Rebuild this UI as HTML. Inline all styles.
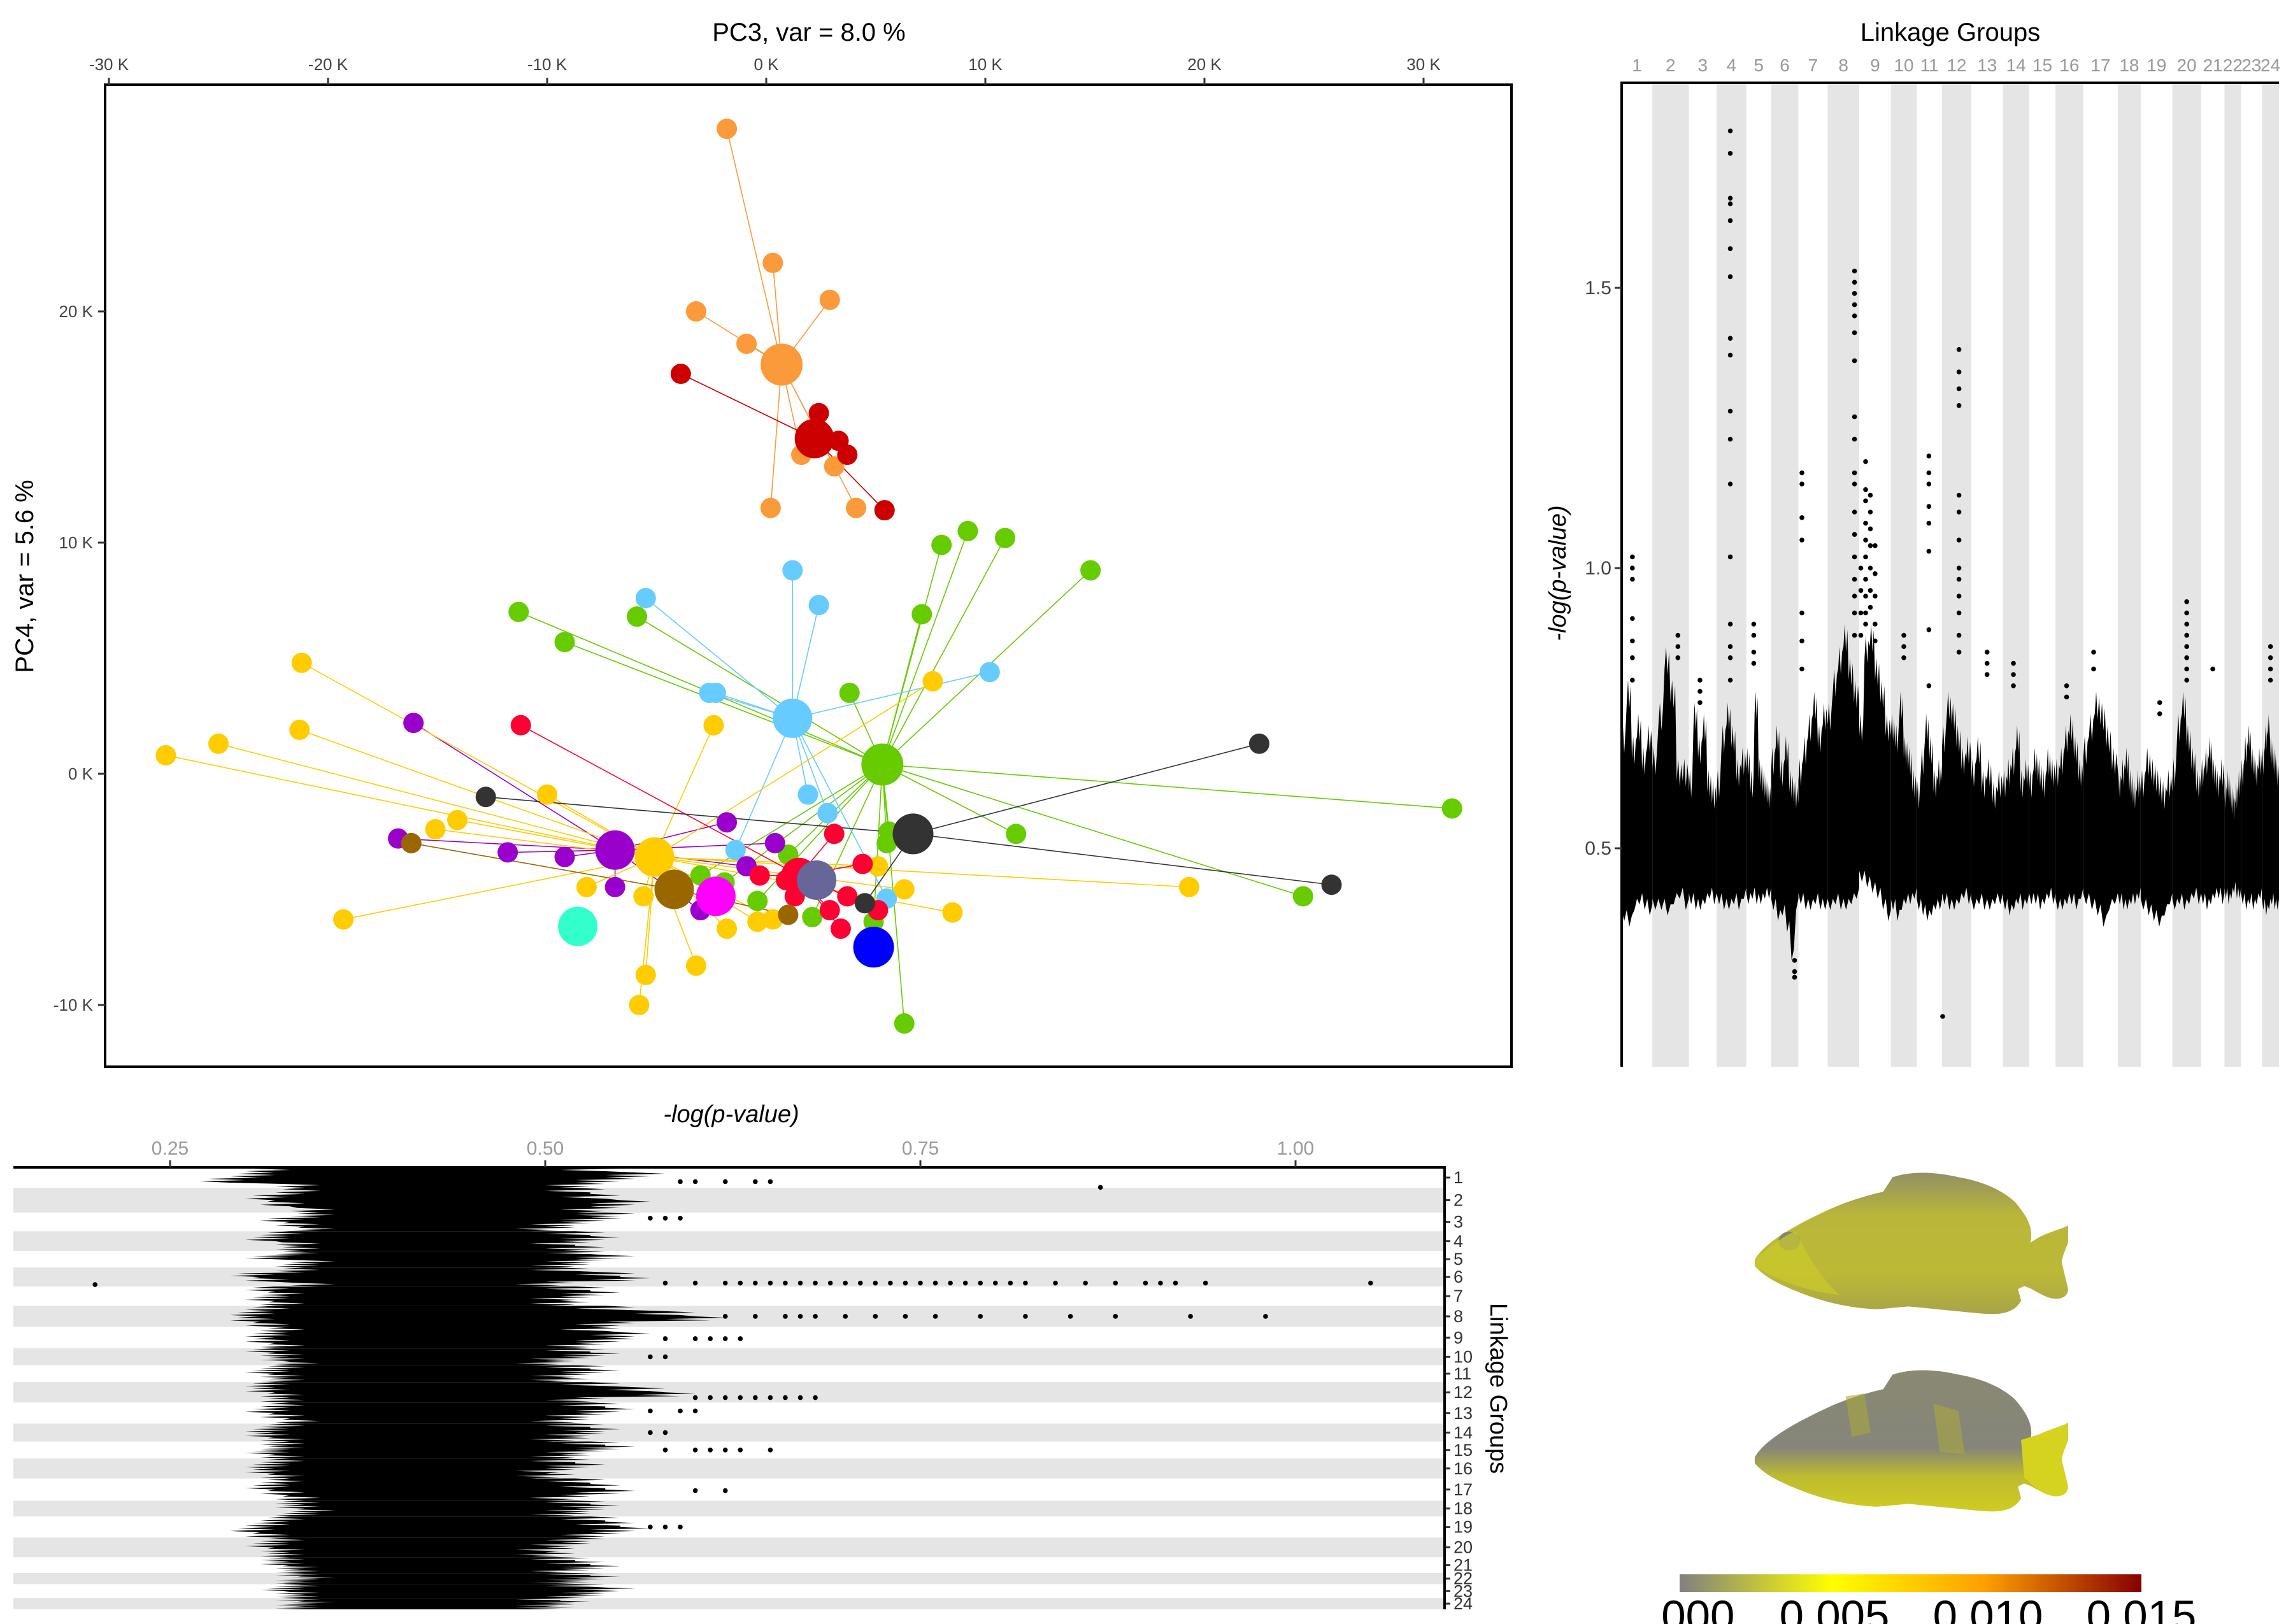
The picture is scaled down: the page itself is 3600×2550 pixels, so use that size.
<!DOCTYPE html>
<html><head><meta charset="utf-8">
<style>
html,body{margin:0;padding:0;background:#fff;}
svg{display:block;font-family:"Liberation Sans",sans-serif;}
</style></head>
<body>
<svg id="fig" width="3600" height="2550" viewBox="0 0 3600 2550" xmlns="http://www.w3.org/2000/svg">
<defs>
  <linearGradient id="cbar" x1="0" x2="1" y1="0" y2="0">
    <stop offset="0" stop-color="#808080"/>
    <stop offset="0.33" stop-color="#ffff00"/>
    <stop offset="0.66" stop-color="#ff9f00"/>
    <stop offset="1" stop-color="#870000"/>
  </linearGradient>
  <linearGradient id="fish1g" x1="0" x2="0" y1="0" y2="1">
    <stop offset="0" stop-color="#939064"/>
    <stop offset="0.3" stop-color="#b9b63a"/>
    <stop offset="0.7" stop-color="#bdb936"/>
    <stop offset="1" stop-color="#a8a548"/>
  </linearGradient>
  <linearGradient id="fish2g" x1="0" x2="0" y1="0" y2="1">
    <stop offset="0" stop-color="#8a8972"/>
    <stop offset="0.55" stop-color="#85857a"/>
    <stop offset="0.75" stop-color="#bdbb30"/>
    <stop offset="1" stop-color="#cfcc22"/>
  </linearGradient>
  <clipPath id="cblab"><rect x="2605" y="2400" width="1000" height="150"/></clipPath>
  <clipPath id="mclip"><rect x="2547" y="130" width="1031" height="1545"/></clipPath>
  <clipPath id="bclip"><rect x="21" y="1833" width="2246" height="717"/></clipPath>
</defs>
<g id="pca"></g>
<g id="man"></g>
<g id="bot"></g>
<g id="fishes">
  <g transform="translate(2750,1837) scale(4.92,2.28)">
    <path d="M1,62 C4,50 14,38 24,28 C30,22 36,18 42,15 L45,5 C52,0 60,2 66,5 C74,8 80,14 84,22 C88,32 90,40 89,50 L92,46 C96,42 100,40 101,38 L101,50 C100,56 99,60 99,64 L101,82 C101,88 98,90 95,88 C92,86 90,82 87,80 L85,82 L86,90 C84,98 80,100 74,99 C68,98 60,96 50,94 L40,96 C30,95 22,90 16,85 C10,80 4,74 1,66 Z" fill="url(#fish1g)"/>
    <ellipse cx="12" cy="49" rx="3.4" ry="6.5" fill="#85856e"/>
    <path d="M1,62 C6,52 10,46 14,42 C18,60 22,74 28,86 C18,84 8,76 1,66 Z" fill="#cccb2a" opacity="0.7"/>
  </g>
  <g transform="translate(2750,2147) scale(4.92,2.28)">
    <path d="M1,62 C4,50 14,38 24,28 C30,22 36,18 42,15 L45,5 C52,0 60,2 66,5 C74,8 80,14 84,22 C88,32 90,40 89,50 L92,46 C96,42 100,40 101,38 L101,50 C100,56 99,60 99,64 L101,82 C101,88 98,90 95,88 C92,86 90,82 87,80 L85,82 L86,90 C84,98 80,100 74,99 C68,98 60,96 50,94 L40,96 C30,95 22,90 16,85 C10,80 4,74 1,66 Z" fill="url(#fish2g)"/>
    <path d="M86,50 L92,46 C96,42 100,40 101,38 L101,50 C100,56 99,60 99,64 L101,82 C101,88 98,90 95,88 C92,86 90,82 87,76 Z" fill="#d6d320"/>
    <path d="M30,20 L36,18 L38,45 L32,48 Z" fill="#a9a640" opacity="0.6"/>
    <path d="M58,25 L66,30 L68,60 L60,58 Z" fill="#aaa740" opacity="0.6"/>
  </g>
  <rect x="2637" y="2472" width="725" height="28" fill="url(#cbar)"/>
  <g clip-path="url(#cblab)" font-size="69" fill="#000" text-anchor="middle">
    <text x="2637" y="2561">0.000</text>
    <text x="2880" y="2561">0.005</text>
    <text x="3121" y="2561">0.010</text>
    <text x="3362" y="2561">0.015</text>
  </g>
</g>
</svg>
<script>
const NS="http://www.w3.org/2000/svg";
function mk(parent,tag,attrs){const e=document.createElementNS(NS,tag);for(const k in attrs)e.setAttribute(k,attrs[k]);parent.appendChild(e);return e;}

/* ================= PCA scatter data (units: thousands) ================= */
const pcXTicks=[-30,-20,-10,0,10,20,30];
const pcYTicks=[20,10,0,-10];
const groupNames=["orange","green","lightblue","purple","yellow","red","darkgray","brown","darkred","slate","magenta","aqua","blue"];
const groupColors=["#fb9a3a","#66cc00","#66ccff","#9900cc","#ffcc00","#ff0033","#333333","#996600","#cc0000","#666699","#ff00ff","#33ffcc","#0000ff"];
const centroidX=[0.7,5.3,1.2,-6.9,-5.1,1.5,6.7,-4.2,2.2,2.3,-2.3,-8.6,4.9];
const centroidY=[17.7,0.4,2.4,-3.3,-3.6,-4.4,-2.6,-5.0,14.5,-4.6,-5.3,-6.6,-7.5];
const membersX=[
 [-1.8,0.3,2.9,-3.2,-0.9,1.6,3.1,0.2,4.1],
 [9.2,8.0,10.9,14.8,7.1,-5.9,-11.3,-9.2,3.8,31.3,11.4,24.5,5.6,5.5,1.0,-3.0,-1.9,-0.4,2.1,4.9,6.3],
 [1.2,2.4,-5.5,-2.6,-2.3,10.2,1.9,2.8,-1.4,5.5],
 [-16.1,-1.8,0.4,-16.8,-11.8,-9.2,-6.9,-0.9,-3.0],
 [-21.2,-21.3,-25.0,-27.4,-10.0,-14.1,-15.1,-19.3,-8.2,-5.6,-2.4,7.6,19.3,6.3,8.5,5.1,-1.8,-0.4,0.3,-5.5,-3.2,-5.8],
 [-11.2,3.1,4.4,-0.3,0.9,1.3,3.7,2.9,3.4,5.1],
 [-12.8,22.5,25.8,4.5],
 [-16.2,1.0],
 [-3.9,2.4,3.3,3.7,5.4],
 [],[],[],[]
];
const membersY=[
 [27.9,22.1,20.5,20.0,18.6,13.8,13.3,11.5,11.5],
 [10.5,9.9,10.2,8.8,6.9,6.8,7.0,5.7,3.5,-1.5,-2.6,-5.3,-2.5,-3.0,-3.5,-4.4,-4.7,-5.5,-6.2,-6.4,-10.8],
 [8.8,7.3,7.6,3.5,3.5,4.4,-0.9,-1.7,-3.3,-5.4],
 [2.2,-2.1,-3.0,-2.8,-3.4,-3.6,-4.9,-4.0,-5.9],
 [4.8,1.9,1.3,0.8,-0.9,-2.0,-2.4,-6.3,-4.9,-5.3,2.1,4.0,-4.9,-5.0,-6.0,-4.0,-6.7,-6.4,-6.3,-8.7,-8.3,-10.0],
 [2.1,-2.6,-3.9,-4.4,-4.6,-5.3,-5.3,-5.9,-6.7,-5.9],
 [-1.0,1.3,-4.8,-5.6],
 [-3.0,-6.1],
 [17.3,15.6,14.4,13.8,11.4],
 [],[],[],[]
];
const centroidR=[33,33,31,31,31,28,32,31,31,31,31,31,32];

(function(){
 const g=document.getElementById('pca');
 const X=k=>1203+k*34.4, Y=k=>1215-k*36.3;
 const box=mk(g,'rect',{x:165,y:133,width:2208,height:1542,fill:'none',stroke:'#000','stroke-width':4});
 
 
 pcXTicks.forEach(t=>{
  const l=mk(g,'line',{x1:X(t),x2:X(t),y1:133,y2:122,stroke:'#333','stroke-width':3});
  
  
  const tx=mk(g,'text',{x:X(t),y:110,'font-size':26,'text-anchor':'middle',fill:'#444'});
  tx.textContent=t+' K';
  
  
 });
 pcYTicks.forEach(t=>{
  const l=mk(g,'line',{x1:154,x2:165,y1:Y(t),y2:Y(t),stroke:'#333','stroke-width':3});
  
  
  const tx=mk(g,'text',{x:146,y:Y(t)+9,'font-size':26,'text-anchor':'end',fill:'#444'});
  tx.textContent=t+' K';
  
  
 });
 const tt=mk(g,'text',{x:1270,y:64,'font-size':40,'text-anchor':'middle',fill:'#000'});
 tt.textContent='PC3, var =  8.0 %';
 
 
 const yt=mk(g,'text',{x:0,y:0,'font-size':40,'text-anchor':'middle',fill:'#000',transform:'translate(52,905) rotate(-90)'});
 yt.textContent='PC4, var = 5.6 %';
 
 
 groupNames.forEach((n,i)=>{
  membersX[i].forEach((mx,j)=>{
   const l=mk(g,'line',{x1:X(centroidX[i]),y1:Y(centroidY[i]),x2:X(mx),y2:Y(membersY[i][j]),stroke:groupColors[i],'stroke-width':1.6});
   
   
  });
 });
 groupNames.forEach((n,i)=>{
  membersX[i].forEach((mx,j)=>{
   const c=mk(g,'circle',{cx:X(mx),cy:Y(membersY[i][j]),r:16,fill:groupColors[i]});
   
   
  });
 });
 groupNames.forEach((n,i)=>{
  const c=mk(g,'circle',{cx:X(centroidX[i]),cy:Y(centroidY[i]),r:centroidR[i],fill:groupColors[i]});
  
  
 });
})();

/* ================= Manhattan (vertical values) ================= */
const lgLabels=["1","2","3","4","5","6","7","8","9","10","11","12","13","14","15","16","17","18","19","20","21","22","23","24"];
const lgLen=[63,75,57,61,51,56,60,65,65,53,52,60,65,54,54,57,71,47,65,59,48,34,43,35];
const manYTicks=[0.5,1.0,1.5];
const manTops=[
 [0.72,0.80,0.70,0.74,0.68,0.72],[0.68,0.76,0.86,0.80,0.66,0.66],[0.64,0.76,0.70,0.74,0.64,0.62],
 [0.64,0.72,0.76,0.72,0.66,0.68],[0.68,0.64,0.78,0.66,0.64,0.62],[0.68,0.72,0.66,0.70,0.64,0.62],
 [0.66,0.70,0.74,0.78,0.72,0.76],[0.76,0.82,0.86,0.90,0.84,0.80],[0.74,0.88,0.90,0.84,0.80,0.74],
 [0.74,0.72,0.78,0.70,0.68,0.64],[0.62,0.68,0.74,0.70,0.64,0.66],[0.72,0.78,0.76,0.72,0.68,0.70],
 [0.66,0.70,0.64,0.66,0.62,0.64],[0.64,0.66,0.68,0.72,0.64,0.66],[0.64,0.68,0.66,0.64,0.68,0.66],
 [0.66,0.68,0.72,0.74,0.70,0.66],[0.70,0.74,0.78,0.76,0.72,0.68],[0.64,0.66,0.68,0.64,0.62,0.64],
 [0.64,0.68,0.66,0.64,0.62,0.64],[0.66,0.74,0.78,0.72,0.68,0.64],[0.66,0.68,0.70,0.66,0.64,0.66],
 [0.62,0.64,0.62,0.60,0.62,0.64],[0.66,0.70,0.72,0.68,0.66,0.68],[0.68,0.72,0.74,0.70,0.68,0.66]
];
const manBottoms=[
 [0.37,0.36,0.39,0.40,0.39,0.38],[0.39,0.39,0.38,0.40,0.41,0.39],[0.40,0.39,0.39,0.40,0.41,0.40],
 [0.40,0.39,0.39,0.40,0.39,0.41],[0.40,0.41,0.40,0.40,0.41,0.41],[0.39,0.37,0.38,0.35,0.30,0.39],
 [0.40,0.39,0.39,0.40,0.39,0.39],[0.39,0.40,0.39,0.39,0.40,0.41],[0.44,0.43,0.42,0.41,0.39,0.37],
 [0.39,0.37,0.39,0.40,0.40,0.41],[0.39,0.38,0.37,0.38,0.39,0.39],[0.40,0.39,0.39,0.40,0.41,0.40],
 [0.39,0.40,0.39,0.39,0.40,0.40],[0.39,0.38,0.39,0.40,0.39,0.40],[0.40,0.40,0.39,0.40,0.41,0.40],
 [0.39,0.39,0.40,0.40,0.39,0.41],[0.40,0.39,0.38,0.36,0.39,0.40],[0.40,0.39,0.39,0.40,0.40,0.41],
 [0.39,0.38,0.37,0.36,0.38,0.40],[0.39,0.40,0.39,0.40,0.41,0.40],[0.40,0.39,0.40,0.41,0.41,0.40],
 [0.41,0.40,0.41,0.42,0.41,0.41],[0.40,0.39,0.40,0.39,0.40,0.41],[0.39,0.38,0.39,0.40,0.39,0.39]
];
const spikeLG=[4,8,12,11,7,1,20,9,9,9,9,12,2,17,6,3,5,13,14,16,19,24,10,21];
const spikeFrac=[0.46,0.85,0.58,0.48,0.12,0.35,0.5,0.05,0.2,0.35,0.5,0.02,0.7,0.3,0.86,0.4,0.3,0.5,0.4,0.4,0.6,0.5,0.5,0.5];
const spikeVals=[
 [1.78,1.74,1.66,1.65,1.62,1.57,1.52,1.41,1.38,1.28,1.23,1.15,1.02,0.90,0.86,0.84,0.80],
 [1.53,1.51,1.49,1.47,1.45,1.42,1.37,1.27,1.23,1.17,1.15,1.10,1.06,1.02,0.98,0.95,0.92,0.88],
 [1.39,1.35,1.32,1.29,1.13,1.10,1.05,1.00,0.98,0.95,0.92,0.88,0.85],
 [1.20,1.17,1.15,1.11,1.08,1.03,0.89,0.79],
 [1.17,1.15,1.09,1.05,0.92,0.87,0.82],
 [1.02,1.00,0.98,0.91,0.87,0.84,0.80],
 [0.94,0.92,0.90,0.88,0.86,0.84,0.82,0.80],
 [1.00,0.96,0.92,0.88],
 [1.19,1.14,1.12,1.08,1.05,1.02,0.98,0.95,0.92,0.90],
 [1.13,1.10,1.07,1.04,1.00,0.96,0.93],
 [1.04,0.99,0.95,0.90,0.87],
 [0.20],
 [0.88,0.86,0.84],
 [0.85,0.82],
 [0.28,0.27,0.30],
 [0.80,0.78,0.76],
 [0.90,0.88,0.85,0.83],
 [0.85,0.83,0.81],
 [0.83,0.81,0.79],
 [0.79,0.77],
 [0.76,0.74],
 [0.86,0.84,0.82,0.80],
 [0.88,0.86,0.84],
 [0.82]
];

(function(){
 const g=document.getElementById('man');
 const L=2546,R=3578,T=130,B=1675;
 const total=lgLen.reduce((a,b)=>a+b,0);
 const starts=[];let acc=0;lgLen.forEach(v=>{starts.push(acc);acc+=v;});
 const X=u=>L+u/total*(R-L);
 const Y=v=>1332-(v-0.5)*880;
 lgLabels.forEach((lab,i)=>{
  if(i%2===1){
   const r=mk(g,'rect',{x:X(starts[i]),y:T,width:X(starts[i]+lgLen[i])-X(starts[i]),height:B-T,fill:'#e5e5e5'});
   
   
  }
  const t=mk(g,'text',{x:X(starts[i]+lgLen[i]/2),y:112,'font-size':28,'text-anchor':'middle',fill:'#999'});
  t.textContent=lab;
  
  
 });
 const dg=mk(g,'g',{'clip-path':'url(#mclip)',fill:'#000'});
 
 
 lgLabels.forEach((lab,i)=>{
  const tops=manTops[i],bots=manBottoms[i],n=tops.length;
  const w=lgLen[i]/n;let pts=[];
  for(let k=0;k<n;k++){
   pts.push([X(starts[i]+k*w),Y(tops[k]-0.04)]);
   pts.push([X(starts[i]+(k+0.25)*w),Y(tops[k])]);
   pts.push([X(starts[i]+(k+0.5)*w),Y(tops[k]-0.05)]);
   pts.push([X(starts[i]+(k+0.75)*w),Y(tops[k]-0.01)]);
  }
  pts.push([X(starts[i]+lgLen[i]),Y(tops[n-1]-0.04)]);
  for(let k=n-1;k>=0;k--){pts.push([X(starts[i]+(k+1)*w),Y(bots[k]+0.02)]);pts.push([X(starts[i]+(k+0.5)*w),Y(bots[k])]);}
  pts.push([X(starts[i]),Y(bots[0]+0.02)]);
  const p=mk(dg,'polygon',{points:pts.map(q=>q[0].toFixed(1)+','+q[1].toFixed(1)).join(' ')});
  
  
 });
 spikeLG.forEach((lg,s)=>{
  const i=lg-1;
  spikeVals[s].forEach(v=>{
   const c=mk(dg,'circle',{cx:X(starts[i]+spikeFrac[s]*lgLen[i]),cy:Y(v),r:3.8});
   
   
  });
 });
 const ax=mk(g,'line',{x1:L,x2:L,y1:T-2,y2:B,stroke:'#000','stroke-width':4});
 
 
 const ax2=mk(g,'line',{x1:L-2,x2:R,y1:T,y2:T,stroke:'#000','stroke-width':4});
 
 
 manYTicks.forEach(v=>{
  const l=mk(g,'line',{x1:L-11,x2:L,y1:Y(v),y2:Y(v),stroke:'#333','stroke-width':3});
  
  
  const t=mk(g,'text',{x:L-16,y:Y(v)+10,'font-size':30,'text-anchor':'end',fill:'#444'});
  t.textContent=v.toFixed(1);
  
  
 });
 const tt=mk(g,'text',{x:3062,y:64,'font-size':40,'text-anchor':'middle',fill:'#000'});
 tt.textContent='Linkage Groups';
 
 
 const yt=mk(g,'text',{x:0,y:0,'font-size':38,'font-style':'italic','text-anchor':'middle',fill:'#000',transform:'translate(2458,900) rotate(-90)'});
 yt.textContent='-log(p-value)';
 
 
})();

/* ================= Manhattan (horizontal values) ================= */
const rowLen=[59,72,54,57,48,55,56,61,62,49,49,59,61,52,49,58,64,46,61,57,46,32,40,33];
const botXTicks=[0.25,0.50,0.75,1.00];
const botLo=[
 [0.30,0.29,0.27,0.32],[0.32,0.30,0.31,0.33],[0.33,0.31,0.32,0.33],[0.31,0.30,0.32,0.32],
 [0.32,0.30,0.33,0.32],[0.32,0.29,0.30,0.33],[0.30,0.31,0.30,0.31],[0.30,0.29,0.29,0.30],
 [0.31,0.30,0.30,0.31],[0.30,0.31,0.31,0.32],[0.31,0.30,0.31,0.31],[0.30,0.30,0.31,0.31],
 [0.31,0.30,0.31,0.32],[0.31,0.30,0.30,0.31],[0.31,0.31,0.30,0.31],[0.31,0.30,0.30,0.31],
 [0.31,0.30,0.31,0.32],[0.32,0.32,0.33,0.32],[0.31,0.30,0.29,0.30],[0.31,0.30,0.31,0.31],
 [0.31,0.31,0.32,0.32],[0.32,0.33,0.32,0.32],[0.32,0.31,0.32,0.32],[0.32,0.33,0.32,0.32]
];
const botHi=[
 [0.55,0.58,0.56,0.54],[0.54,0.55,0.57,0.55],[0.56,0.55,0.53,0.52],[0.54,0.55,0.53,0.54],
 [0.54,0.56,0.54,0.53],[0.53,0.56,0.57,0.52],[0.54,0.55,0.53,0.53],[0.56,0.60,0.62,0.56],
 [0.55,0.57,0.56,0.54],[0.54,0.55,0.53,0.52],[0.54,0.55,0.53,0.53],[0.55,0.58,0.60,0.54],
 [0.55,0.56,0.54,0.53],[0.54,0.55,0.54,0.53],[0.55,0.56,0.54,0.53],[0.53,0.54,0.52,0.52],
 [0.54,0.55,0.56,0.53],[0.54,0.55,0.54,0.53],[0.55,0.56,0.57,0.55],[0.54,0.53,0.52,0.52],
 [0.53,0.54,0.55,0.53],[0.54,0.55,0.54,0.53],[0.54,0.56,0.55,0.54],[0.52,0.53,0.52,0.52]
];
const bSpikeLG=[6,8,12,1,1,15,9,6,17,19,13,14,3,10];
const bSpikeFrac=[0.82,0.5,0.76,0.98,0.7,0.5,0.55,0.9,0.55,0.5,0.4,0.5,0.3,0.5];
const bSpikeVals=[
 [0.58,0.60,0.62,0.63,0.64,0.65,0.66,0.67,0.68,0.69,0.70,0.71,0.72,0.73,0.74,0.75,0.76,0.77,0.78,0.79,0.80,0.81,0.82,0.84,0.86,0.88,0.90,0.91,0.92,0.94,1.05],
 [0.62,0.64,0.66,0.67,0.68,0.70,0.72,0.74,0.76,0.79,0.82,0.85,0.88,0.93,0.98],
 [0.60,0.61,0.62,0.63,0.64,0.65,0.66,0.67,0.68],
 [0.87],
 [0.59,0.60,0.62,0.64,0.65],
 [0.58,0.60,0.61,0.62,0.63,0.65],
 [0.58,0.60,0.61,0.62,0.63],
 [0.20],
 [0.60,0.62],
 [0.57,0.58,0.59],
 [0.57,0.59,0.60],
 [0.57,0.58],
 [0.57,0.58,0.59],
 [0.57,0.58]
];

(function(){
 const g=document.getElementById('bot');
 const L=21,R=2268,T=1833,B=2527;
 const total=rowLen.reduce((a,b)=>a+b,0);
 const starts=[];let acc=0;rowLen.forEach(v=>{starts.push(acc);acc+=v;});
 const Y=u=>T+u/total*(B-T);
 const X=v=>856+(v-0.5)*2356;
 lgLabels.forEach((lab,i)=>{
  if(i%2===1){
   const r=mk(g,'rect',{x:L,y:Y(starts[i]),width:R-L,height:Y(starts[i]+rowLen[i])-Y(starts[i]),fill:'#e5e5e5'});
   
   
  }
  const yc=Y(starts[i]+rowLen[i]/2);
  const tk=mk(g,'line',{x1:R,x2:R+9,y1:yc,y2:yc,stroke:'#333','stroke-width':3});
  
  
  const t=mk(g,'text',{x:R+14,y:yc+9,'font-size':27,fill:'#333'});
  t.textContent=lab;
  
  
 });
 const dg=mk(g,'g',{'clip-path':'url(#bclip)',fill:'#000'});
 
 
 lgLabels.forEach((lab,i)=>{
  const lo=botLo[i],hi=botHi[i],n=lo.length,h=rowLen[i]/n;let pts=[];
  for(let k=0;k<n;k++){
   pts.push([X(hi[k]-0.02),Y(starts[i]+k*h)]);
   pts.push([X(hi[k]),Y(starts[i]+(k+0.25)*h)]);
   pts.push([X(hi[k]-0.04),Y(starts[i]+(k+0.5)*h)]);
   pts.push([X(hi[k]-0.01),Y(starts[i]+(k+0.75)*h)]);
  }
  pts.push([X(hi[n-1]-0.03),Y(starts[i]+rowLen[i])]);
  for(let k=n-1;k>=0;k--){
   pts.push([X(lo[k]+0.02),Y(starts[i]+(k+1)*h)]);
   pts.push([X(lo[k]),Y(starts[i]+(k+0.75)*h)]);
   pts.push([X(lo[k]+0.03),Y(starts[i]+(k+0.5)*h)]);
   pts.push([X(lo[k]+0.005),Y(starts[i]+(k+0.25)*h)]);
  }
  pts.push([X(lo[0]+0.02),Y(starts[i])]);
  const p=mk(dg,'polygon',{points:pts.map(q=>q[0].toFixed(1)+','+q[1].toFixed(1)).join(' ')});
  
  
 });
 bSpikeLG.forEach((lg,s)=>{
  const i=lg-1;
  bSpikeVals[s].forEach(v=>{
   const c=mk(dg,'circle',{cx:X(v),cy:Y(starts[i]+bSpikeFrac[s]*rowLen[i]),r:3.8});
   
   
  });
 });
 const ax=mk(g,'line',{x1:L,x2:R+2,y1:T,y2:T,stroke:'#000','stroke-width':4});
 
 
 const ax2=mk(g,'line',{x1:R,x2:R,y1:T,y2:B,stroke:'#000','stroke-width':4});
 
 
 botXTicks.forEach(v=>{
  const l=mk(g,'line',{x1:X(v),x2:X(v),y1:T-11,y2:T,stroke:'#333','stroke-width':3});
  
  
  const t=mk(g,'text',{x:X(v),y:1813,'font-size':30,'text-anchor':'middle',fill:'#999'});
  t.textContent=v.toFixed(2);
  
  
 });
 const tt=mk(g,'text',{x:1148,y:1762,'font-size':38,'font-style':'italic','text-anchor':'middle',fill:'#000'});
 tt.textContent='-log(p-value)';
 
 
 const yt=mk(g,'text',{x:0,y:0,'font-size':38,'text-anchor':'middle',fill:'#000',transform:'translate(2340,2180) rotate(90)'});
 yt.textContent='Linkage Groups';
 
 
})();
</script>
</body></html>
